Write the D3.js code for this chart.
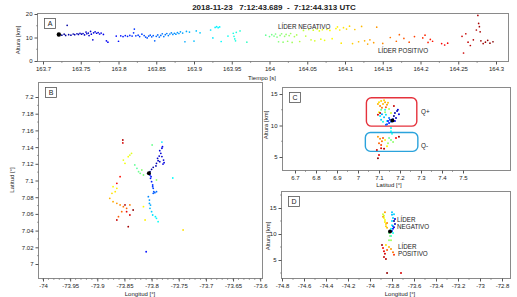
<!DOCTYPE html>
<html>
<head>
<meta charset="utf-8">
<script src="https://cdn.jsdelivr.net/npm/d3@7"></script>
<style>
body { margin: 0; background: #fff; }
svg text { font-family: "Liberation Sans", Arial, sans-serif; fill: #222; }
</style>
</head>
<body>
<div id="display"></div>
<script>
// time window used for colouring (jet)
const timeRange = [163.72, 164.30];
const jetColors = ["#00008f", "#0000ff", "#007fff", "#00ffff", "#7fff7f", "#ffff00", "#ff7f00", "#ff0000", "#7f0000"];

// panel A: [time s, altitude km]
const aStart = [163.721, 11.3];
const aPoints = [
  [163.725,11.0],[163.728,11.4],[163.730,10.9],[163.732,15.2],[163.734,11.2],[163.737,11.0],[163.740,11.5],[163.742,11.2],
  [163.745,11.6],[163.747,11.3],[163.749,11.8],[163.751,11.4],[163.753,11.7],[163.755,11.1],[163.757,12.3],[163.758,11.6],
  [163.760,11.9],[163.761,10.8],[163.763,12.6],[163.764,11.4],[163.766,9.0],[163.767,12.0],[163.769,12.4],[163.771,11.8],
  [163.773,12.1],[163.775,11.5],[163.777,11.9],[163.780,11.3],[163.784,8.6],[163.786,8.0],
  [163.797,10.6],[163.800,8.4],[163.803,10.7],[163.806,10.4],[163.809,10.8],[163.812,10.5],[163.815,10.9],[163.818,10.6],
  [163.820,12.0],[163.821,13.6],[163.823,10.7],[163.826,11.0],[163.828,10.4],[163.831,11.4],[163.834,10.8],
  [163.836,10.2],[163.838,9.8],[163.840,10.6],[163.842,11.0],[163.844,10.3],[163.846,10.8],[163.848,8.6],[163.850,10.5],
  [163.852,11.1],[163.854,10.2],[163.856,10.9],[163.858,11.6],[163.860,10.4],[163.862,11.2],[163.864,11.7],[163.866,10.8],
  [163.868,11.5],[163.870,12.0],[163.872,11.3],[163.874,11.8],[163.876,11.4],[163.878,12.1],[163.880,11.7],[163.882,12.4],
  [163.885,11.9],[163.888,8.2],[163.890,12.6],[163.894,12.3],
  [163.900,8.5],[163.903,12.8],[163.908,12.0],[163.922,13.2],[163.925,9.8],[163.928,14.3],[163.930,14.6],[163.932,14.2],
  [163.934,14.5],[163.936,8.3],[163.945,10.6],[163.952,11.8],[163.953,10.5],[163.954,9.4],[163.955,8.6],[163.956,12.2],
  [163.961,12.8],[163.970,8.0],
  [163.995,11.0],[164.000,10.4],[164.003,11.2],[164.006,10.6],[164.008,11.5],[164.010,10.2],[164.012,8.2],[164.014,10.9],
  [164.016,11.6],[164.018,8.0],[164.020,10.5],[164.022,11.3],[164.024,8.4],[164.026,10.8],[164.028,11.7],[164.030,7.9],
  [164.033,10.4],[164.036,11.1],[164.040,8.3],[164.045,13.0],[164.048,10.6],
  [164.052,13.4],[164.055,9.0],[164.058,13.1],[164.060,8.6],[164.063,13.6],[164.066,12.8],[164.068,9.3],[164.070,13.3],
  [164.073,8.8],[164.076,13.5],[164.080,13.0],[164.083,9.5],[164.088,13.8],[164.090,14.5],[164.093,13.2],[164.095,7.6],
  [164.098,14.2],[164.102,13.6],[164.106,14.8],[164.110,7.4],[164.113,13.4],[164.118,8.2],
  [164.122,14.7],[164.126,8.6],[164.130,7.2],[164.133,9.0],[164.138,7.8],[164.142,14.4],[164.150,7.5],[164.160,10.0],
  [164.168,8.4],[164.172,11.2],[164.178,9.6],[164.185,8.0],[164.192,10.4],
  [164.203,9.8],[164.206,11.0],[164.210,7.9],[164.213,9.2],[164.216,8.4],[164.228,7.4],[164.232,6.8],[164.236,7.6],
  [164.255,10.5],[164.257,3.4],[164.260,11.6],[164.263,8.0],[164.266,6.6],[164.270,9.0],[164.274,13.2],[164.276,19.4],
  [164.277,16.0],[164.278,14.6],[164.279,12.4],[164.280,8.6],[164.283,7.4],[164.286,8.0],[164.289,8.8],[164.292,7.6],
  [164.296,8.2]
];

// panel B: [longitude, latitude, time]
const bStart = [-73.805, 7.1086];
const bPoints = [
  [-73.803,7.1105,163.725],[-73.800,7.1134,163.730],[-73.797,7.1158,163.735],[-73.792,7.1174,163.740],[-73.791,7.1206,163.745],
  [-73.788,7.1237,163.750],[-73.789,7.1266,163.755],[-73.786,7.1293,163.760],[-73.783,7.1326,163.765],[-73.785,7.1357,163.770],
  [-73.781,7.1386,163.775],[-73.780,7.1405,163.780],[-73.781,7.1286,163.760],[-73.778,7.1245,163.765],[-73.777,7.1213,163.770],
  [-73.779,7.1197,163.775],[-73.785,7.1226,163.750],
  [-73.803,7.1066,163.800],[-73.802,7.1026,163.805],[-73.800,7.0986,163.810],[-73.798,7.0946,163.820],[-73.797,7.0906,163.830],
  [-73.796,7.0866,163.840],[-73.797,7.0846,163.845],[-73.794,7.0854,163.850],[-73.791,7.0866,163.855],[-73.798,7.0926,163.825],
  [-73.801,7.1046,163.805],
  [-73.804,7.0766,163.880],[-73.802,7.0706,163.890],[-73.803,7.0667,163.900],[-73.800,7.0627,163.910],[-73.798,7.0587,163.920],
  [-73.791,7.0547,163.935],[-73.788,7.0507,163.945],[-73.804,7.0726,163.885],[-73.793,7.0567,163.930],[-73.806,7.0806,163.870],
  [-73.781,7.1460,163.930],[-73.761,7.1030,163.940],
  [-73.827,7.1146,163.990],[-73.824,7.1106,164.000],[-73.821,7.1086,164.005],[-73.815,7.1066,164.010],[-73.818,7.1126,164.015],
  [-73.791,7.1006,164.020],[-73.831,7.1186,163.995],[-73.799,7.1425,164.000],
  [-73.840,7.1305,164.060],[-73.837,7.1326,164.065],[-73.852,7.1245,164.070],[-73.849,7.1206,164.075],[-73.843,7.1285,164.080],
  [-73.871,7.0926,164.085],[-73.864,7.0906,164.090],[-73.867,7.0866,164.095],[-73.873,7.0846,164.100],[-73.815,7.0686,164.085],
  [-73.812,7.0527,164.090],[-73.742,7.0407,164.100],
  [-73.877,7.0787,164.125],[-73.871,7.0747,164.130],[-73.864,7.0727,164.140],[-73.858,7.0707,164.150],[-73.852,7.0686,164.160],
  [-73.846,7.0667,164.170],[-73.840,7.0707,164.155],[-73.855,7.0627,164.165],[-73.861,7.0567,164.175],
  [-73.858,7.1046,164.220],[-73.864,7.0966,164.230],[-73.846,7.0627,164.240],[-73.840,7.0587,164.250],[-73.864,7.0527,164.260],
  [-73.843,7.0447,164.280],[-73.849,7.0707,164.270],[-73.834,7.0647,164.290],[-73.853,7.1485,164.270],[-73.853,7.1450,164.250],
  [-73.810,7.0147,163.800]
];

// panel C: [latitude, altitude km, time]
const cStart = [7.164, 10.8];
const cPoints = [
  [7.100,13.7,164.100],[7.110,13.9,164.110],[7.119,13.4,164.120],[7.129,13.7,164.130],[7.138,13.3,164.140],[7.105,13.1,164.150],
  [7.114,12.8,164.160],[7.133,12.9,164.170],[7.124,14.0,164.105],[7.143,13.6,164.115],[7.095,13.4,164.125],
  [7.110,12.5,164.000],[7.129,12.1,164.020],[7.148,12.6,164.040],[7.157,12.0,164.060],[7.100,12.1,164.080],
  [7.114,11.8,163.880],[7.124,11.3,163.900],[7.110,10.9,163.910],[7.133,11.7,163.920],[7.105,11.5,163.930],[7.138,10.7,163.940],
  [7.119,10.6,163.950],[7.129,12.5,163.960],
  [7.143,10.7,163.800],[7.148,10.4,163.810],[7.152,10.9,163.820],[7.138,10.2,163.830],[7.157,10.6,163.840],[7.133,10.1,163.850],
  [7.148,11.2,163.860],
  [7.171,11.5,163.725],[7.176,12.0,163.735],[7.186,12.3,163.745],[7.181,11.2,163.755],[7.190,12.5,163.765],[7.167,11.0,163.770],
  [7.195,11.8,163.775],[7.176,10.7,163.780],
  [7.095,11.7,164.250],[7.105,12.0,164.270],[7.171,13.1,164.260],
  [7.157,9.6,163.930],[7.157,9.1,163.940],[7.162,8.7,163.950],
  [7.095,8.2,164.140],[7.105,7.9,164.150],[7.114,7.5,164.160],[7.100,7.2,164.170],[7.119,8.0,164.180],[7.110,6.9,164.190],
  [7.148,8.0,164.000],[7.157,7.7,164.010],[7.167,7.4,164.020],[7.143,7.2,164.030],
  [7.129,7.7,164.080],[7.138,6.7,164.090],
  [7.181,8.0,164.230],[7.100,5.3,164.240],[7.110,6.4,164.250],[7.090,6.1,164.260],[7.124,6.3,164.270],[7.195,8.2,164.280],
  [7.095,4.8,164.290]
];

// panel D: [longitude, altitude km, time]
const dStart = [-73.818, 10.5];
const dPoints = [
  [-73.882,13.8,164.050],[-73.873,13.5,164.060],[-73.873,13.1,164.070],[-73.864,12.7,164.080],[-73.864,12.3,164.090],
  [-73.855,11.9,164.100],[-73.855,11.5,164.110],[-73.845,11.2,164.120],[-73.882,13.3,164.130],[-73.864,14.2,164.140],
  [-73.845,12.1,164.150],
  [-73.800,13.7,163.900],[-73.791,13.1,163.910],[-73.800,12.5,163.920],[-73.800,11.7,163.930],[-73.809,11.0,163.940],
  [-73.791,10.2,163.950],[-73.809,9.6,163.960],[-73.800,14.2,163.905],[-73.782,13.8,163.915],
  [-73.782,12.5,163.730],[-73.773,11.9,163.750],[-73.782,11.3,163.770],[-73.791,11.0,163.800],[-73.773,12.9,163.760],
  [-73.800,10.6,163.830],[-73.791,11.5,163.850],
  [-73.827,10.2,164.000],[-73.818,9.6,164.010],[-73.827,8.8,164.020],[-73.809,8.8,164.030],
  [-73.855,7.9,164.100],[-73.827,7.5,164.120],[-73.809,7.1,164.140],[-73.791,6.5,164.160],[-73.845,6.9,164.180],
  [-73.782,6.0,164.200],
  [-73.882,7.3,164.220],[-73.873,6.7,164.240],[-73.864,6.2,164.250],[-73.873,5.6,164.260],[-73.855,5.2,164.270],
  [-73.891,7.9,164.280],[-73.845,2.5,164.290],[-73.718,2.5,164.250]
];

// tick labels
const aXTicks = [163.7, 163.75, 163.8, 163.85, 163.9, 163.95, 164, 164.05, 164.1, 164.15, 164.2, 164.25, 164.3];
const aYTicks = [0, 10, 20];
const bXTicks = [-74, -73.95, -73.9, -73.85, -73.8, -73.75, -73.7, -73.65, -73.6];
const bYTicks = [7, 7.02, 7.04, 7.06, 7.08, 7.1, 7.12, 7.14, 7.16, 7.18, 7.2];
const cXTicks = [6.7, 6.8, 6.9, 7, 7.1, 7.2, 7.3, 7.4, 7.5];
const cYTicks = [5, 10, 15];
const dXTicks = [-74.8, -74.6, -74.4, -74.2, -74, -73.8, -73.6, -73.4, -73.2, -73, -72.8];
const dYTicks = [5, 10, 15];

// charge regions drawn in panel C: [lat0, lat1, alt0, alt1]
const regionPos = [7.04, 7.28, 9.9, 14.4];
const regionNeg = [7.035, 7.285, 5.9, 8.9];

let w = 517;
let h = 297;

let viz = d3.select('#display')
            .append('svg')
                .attr('width', w)
                .attr('height', h);

const colour = d3.scaleSequential(d3.piecewise(d3.interpolateRgb, jetColors)).domain(timeRange);
const fmt = (d) => String(+d.toFixed(3));

// draws frame, axes, minor ticks and the letter box for one panel
function panel(p) {
    let g = viz.append('g');
    let x = d3.scaleLinear().domain(p.xDom).range(p.xRange);
    let y = d3.scaleLinear().domain(p.yDom).range(p.yRange);

    g.append('rect')
        .attr('x', p.box[0] + 0.5).attr('y', p.box[2] + 0.5)
        .attr('width', p.box[1] - p.box[0]).attr('height', p.box[3] - p.box[2])
        .attr('fill', 'none').attr('stroke', '#8a8a8a').attr('stroke-width', 1);

    let xa = g.append('g')
        .attr('transform', 'translate(0,' + (p.box[3] + 0.5) + ')')
        .call(d3.axisBottom(x).tickValues(p.xTicks).tickFormat(fmt).tickSize(3).tickPadding(2));
    let ya = g.append('g')
        .attr('transform', 'translate(' + (p.box[0] + 0.5) + ',0)')
        .call(d3.axisLeft(y).tickValues(p.yTicks).tickFormat(fmt).tickSize(3).tickPadding(2));
    [xa, ya].forEach((a) => {
        a.select('.domain').remove();
        a.selectAll('line').attr('stroke', '#555');
        a.selectAll('text').attr('font-size', 6).attr('fill', '#222').style('font-family', '"Liberation Sans", Arial, sans-serif');
    });

    // minor ticks
    g.selectAll('.mx').data(p.xMinor).enter().append('line')
        .attr('x1', (d) => x(d)).attr('x2', (d) => x(d))
        .attr('y1', p.box[3] + 0.5).attr('y2', p.box[3] + 2)
        .attr('stroke', '#666').attr('stroke-width', 0.6);
    g.selectAll('.my').data(p.yMinor).enter().append('line')
        .attr('y1', (d) => y(d)).attr('y2', (d) => y(d))
        .attr('x1', p.box[0] + 0.5).attr('x2', p.box[0] - 1)
        .attr('stroke', '#666').attr('stroke-width', 0.6);

    // letter
    g.append('rect')
        .attr('x', p.box[0] + 7.5).attr('y', p.box[2] + 5.5)
        .attr('width', 11).attr('height', 10)
        .attr('fill', 'none').attr('stroke', '#555').attr('stroke-width', 0.8);
    g.append('text')
        .attr('x', p.box[0] + 13).attr('y', p.box[2] + 13.3)
        .attr('text-anchor', 'middle').attr('font-size', 7)
        .text(p.letter);

    // axis titles
    g.append('text')
        .attr('x', p.xTitle[0]).attr('y', p.xTitle[1])
        .attr('text-anchor', 'middle').attr('font-size', 6)
        .text(p.xLabel);
    g.append('text')
        .attr('transform', 'translate(' + p.yTitle[0] + ',' + p.yTitle[1] + ') rotate(-90)')
        .attr('text-anchor', 'middle').attr('font-size', 6)
        .text(p.yLabel);

    return { g, x, y };
}

function dots(pn, data, xi, yi, ci, r) {
    pn.g.selectAll(null).data(data).enter().append('circle')
        .attr('cx', (d) => pn.x(d[xi]))
        .attr('cy', (d) => pn.y(d[yi]))
        .attr('r', r)
        .attr('fill', (d) => colour(d[ci]));
}

function startDot(pn, d, r) {
    pn.g.append('circle')
        .attr('cx', pn.x(d[0])).attr('cy', pn.y(d[1]))
        .attr('r', r).attr('fill', '#000');
}

// title
viz.append('text')
    .attr('x', 274).attr('y', 9.5)
    .attr('text-anchor', 'middle')
    .attr('font-size', 8).attr('font-weight', 'bold')
    .style('white-space', 'pre')
    .text('2018-11-23   7:12:43.689  -  7:12:44.313 UTC');

// A
let pA = panel({
    box: [37, 508, 13, 61],
    xDom: [163.7, 164.3], xRange: [43, 496],
    yDom: [0, 20], yRange: [61, 14],
    xTicks: aXTicks, yTicks: aYTicks,
    xMinor: d3.range(1, 24, 2).map((i) => 163.7 + i * 0.025),
    yMinor: [5, 15],
    letter: 'A', xLabel: 'Tiempo [s]', yLabel: 'Altura [km]',
    xTitle: [262, 80], yTitle: [20, 40]
});
dots(pA, aPoints, 0, 1, 0, 0.85);
startDot(pA, aStart, 2.2);
pA.g.append('text').attr('x', 278).attr('y', 29).attr('font-size', 6.3).text('LÍDER NEGATIVO');
pA.g.append('text').attr('x', 378).attr('y', 52.5).attr('font-size', 6.3).text('LÍDER POSITIVO');

// B
let pB = panel({
    box: [38, 262, 82, 278],
    xDom: [-74, -73.6], xRange: [43, 260.2],
    yDom: [7, 7.2], yRange: [264, 97],
    xTicks: bXTicks, yTicks: bYTicks,
    xMinor: d3.range(0, 41).map((i) => -74 + i * 0.01),
    yMinor: d3.range(1, 20, 2).map((i) => 7 + i * 0.01),
    letter: 'B', xLabel: 'Longitud [°]', yLabel: 'Latitud [°]',
    xTitle: [140, 296], yTitle: [14, 180]
});
dots(pB, bPoints, 0, 1, 2, 0.9);
startDot(pB, bStart, 2);

// C
let pC = panel({
    box: [282, 510, 87, 170],
    xDom: [6.7, 7.5], xRange: [295, 463],
    yDom: [5, 15], yRange: [157, 94],
    xTicks: cXTicks, yTicks: cYTicks,
    xMinor: d3.range(0, 8).map((i) => 6.75 + i * 0.1),
    yMinor: [7.5, 12.5],
    letter: 'C', xLabel: 'Latitud [°]', yLabel: 'Altura [km]',
    xTitle: [389, 187], yTitle: [268, 125]
});
[[regionPos, '#e5323c'], [regionNeg, '#2ba3dc']].forEach(([r, c]) => {
    pC.g.append('rect')
        .attr('x', pC.x(r[0])).attr('y', pC.y(r[3]))
        .attr('width', pC.x(r[1]) - pC.x(r[0])).attr('height', pC.y(r[2]) - pC.y(r[3]))
        .attr('rx', 5).attr('fill', 'none').attr('stroke', c).attr('stroke-width', 1.4);
});
dots(pC, cPoints, 0, 1, 2, 1);
startDot(pC, cStart, 2);
pC.g.append('text').attr('x', 421).attr('y', 114).attr('font-size', 6.3).text('Q+');
pC.g.append('text').attr('x', 421).attr('y', 147.5).attr('font-size', 6.3).text('Q-');

// D
let pD = panel({
    box: [281, 510, 191, 278],
    xDom: [-74.8, -72.8], xRange: [282, 502],
    yDom: [5, 15], yRange: [260, 208],
    xTicks: dXTicks, yTicks: dYTicks,
    xMinor: d3.range(0, 10).map((i) => -74.7 + i * 0.2),
    yMinor: [2.5, 7.5, 12.5, 17.5],
    letter: 'D', xLabel: 'Longitud [°]', yLabel: 'Altura [km]',
    xTitle: [400, 296], yTitle: [270, 236]
});
dots(pD, dPoints, 0, 1, 2, 1);
startDot(pD, dStart, 2);
[['LÍDER', 397, 222], ['NEGATIVO', 397, 229], ['LÍDER', 398, 249], ['POSITIVO', 398, 256]].forEach(([t, x, y]) => {
    pD.g.append('text').attr('x', x).attr('y', y).attr('font-size', 6.3).text(t);
});
</script>
</body>
</html>
